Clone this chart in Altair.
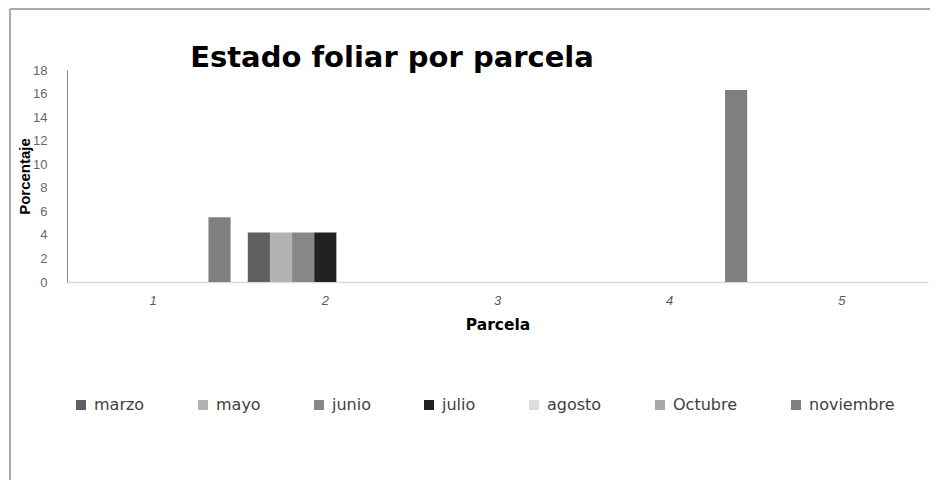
import altair as alt
import pandas as pd

titulo = "Estado foliar por parcela"
parcelas = ["1", "2", "3", "4", "5"]
meses = ["marzo", "mayo", "junio", "julio", "agosto", "Octubre", "noviembre"]
marzo = [0, 4.2, 0, 0, 0]
mayo = [0, 4.2, 0, 0, 0]
junio = [0, 4.2, 0, 0, 0]
julio = [0, 4.2, 0, 0, 0]
agosto = [0, 0, 0, 0, 0]
octubre = [0, 0, 0, 0, 0]
noviembre = [5.5, 0, 0, 16.3, 0]
colores = ["#5f5f5f", "#b3b3b3", "#878787", "#222222", "#dcdcdc", "#a9a9a9", "#7f7f7f"]
y_ticks = [0, 2, 4, 6, 8, 10, 12, 14, 16, 18]

series = dict(zip(meses, [marzo, mayo, junio, julio, agosto, octubre, noviembre]))
rows = [
    {"Parcela": p, "Mes": m, "Porcentaje": v}
    for m in meses
    for p, v in zip(parcelas, series[m])
]
df = pd.DataFrame(rows)

bars = alt.Chart(df).mark_bar().encode(
    x=alt.X(
        "Parcela:N",
        sort=parcelas,
        scale=alt.Scale(paddingInner=0.1, paddingOuter=0.05),
        axis=alt.Axis(
            title="Parcela",
            labelAngle=0,
            labelFont="Liberation Sans",
            labelFontStyle="italic",
            labelFontSize=13,
            labelColor="#595959",
            labelPadding=12,
            ticks=False,
            domainColor="#d9d9d9",
            domainWidth=1.5,
            titleFont="DejaVu Sans",
            titleFontWeight="bold",
            titleFontSize=15.5,
            titleColor="#000000",
            titlePadding=10,
        ),
    ),
    xOffset=alt.XOffset("Mes:N", sort=meses, scale=alt.Scale(paddingInner=0, paddingOuter=0)),
    y=alt.Y(
        "Porcentaje:Q",
        scale=alt.Scale(domain=[0, 18], nice=False),
        axis=alt.Axis(
            values=y_ticks,
            grid=False,
            ticks=False,
            labelFont="Liberation Sans",
            labelFontSize=13,
            labelColor="#666666",
            labelPadding=20,
            domainColor="#8c8c8c",
            domainWidth=1,
            title="Porcentaje",
            titleFont="Liberation Sans",
            titleFontSize=15,
            titleFontWeight="bold",
            titleColor="#000000",
            titleAngle=270,
            titleX=-38,
            titleY=106,
            titleAlign="center",
            titleBaseline="alphabetic",
        ),
    ),
    color=alt.Color(
        "Mes:N",
        sort=meses,
        scale=alt.Scale(domain=meses, range=colores),
        legend=alt.Legend(
            title=None,
            orient="none",
            legendX=6,
            legendY=327,
            direction="horizontal",
            columns=7,
            symbolType="square",
            symbolSize=100,
            symbolStrokeWidth=0,
            labelFont="DejaVu Sans",
            labelFontSize=16,
            labelColor="#404040",
            labelOffset=5,
            columnPadding=50,
        ),
    ),
)

title_df = pd.DataFrame({"t": [titulo]})
title_mark = alt.Chart(title_df).mark_text(
    font="DejaVu Sans",
    fontSize=29,
    fontWeight="bold",
    color="#000000",
    align="center",
    baseline="alphabetic",
).encode(text="t:N", x=alt.value(325), y=alt.value(-3))

frame_data = pd.DataFrame({"k": [0]})
top_line = alt.Chart(frame_data).mark_rule(color="#8f8f8f", strokeWidth=1.5).encode(
    x=alt.value(-57), x2=alt.value(871), y=alt.value(-61)
)
left_line = alt.Chart(frame_data).mark_rule(color="#8f8f8f", strokeWidth=1.5).encode(
    x=alt.value(-57), y=alt.value(-61), y2=alt.value(420)
)

chart = alt.layer(bars, title_mark, top_line, left_line).properties(
    width=861,
    height=212,
    autosize=alt.AutoSizeParams(type="none"),
    padding={"left": 59, "top": 62, "right": 2, "bottom": 198},
).configure_view(stroke=None)

chart.save("out.html", embed_options={"renderer": "svg", "actions": False})
